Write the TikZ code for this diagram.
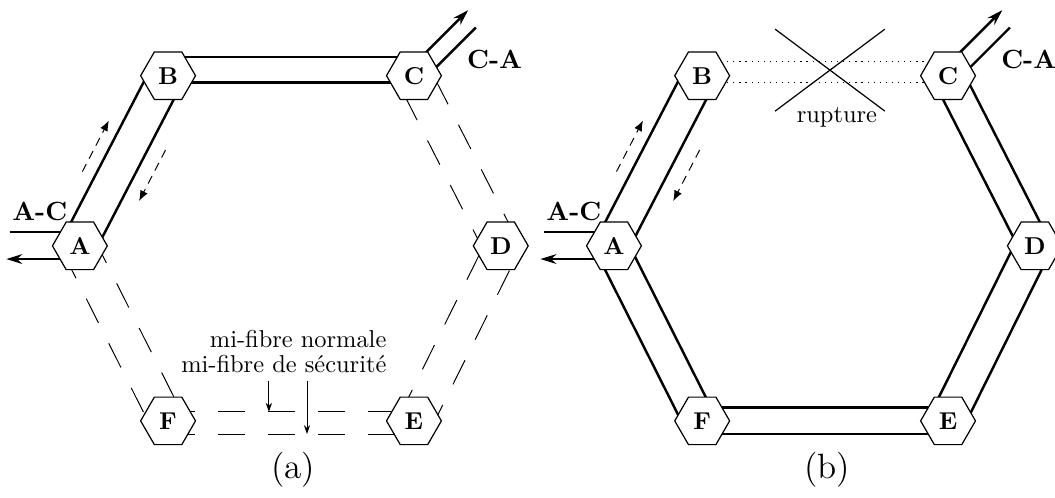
\documentclass[tikz,border=0pt]{standalone}
\usetikzlibrary{shapes.geometric,calc,arrows.meta,backgrounds}

% deux mi-fibres le long d'un tronçon (sens trigo : #2 -> #3)
\newcommand{\fibres}[5][fibre]{%
    \draw[#1] ($(#2.center)!#4!-90:(#3.center)$) -- ($(#3.center)!#4!90:(#2.center)$);
    \draw[#1] ($(#2.center)!#5!90:(#3.center)$) -- ($(#3.center)!#5!-90:(#2.center)$);
}

\begin{document}
\begin{tikzpicture}[
    station/.style={draw, line width=0.5pt, fill=white, regular polygon, regular polygon sides=6,
        minimum size=0.79cm, inner sep=0pt, font=\bfseries},
    fibre/.style={line width=1pt},
    fibre off/.style={line width=0.4pt, dash pattern=on 0.39cm off 0.33cm},
    fibre cut/.style={line width=0.5pt, dotted},
    sens/.style={line width=0.4pt, dash pattern=on 3.5pt off 2.5pt, -{Latex[length=1.5mm,width=1.2mm]}},
    sortie/.style={line width=1pt, -{Stealth[length=2.3mm,width=1.4mm]}},
    flux/.style={font=\fontsize{10.8}{13}\selectfont\bfseries, inner sep=0pt},
    note/.style={inner sep=0pt},
    renvoi/.style={line width=0.4pt, -{Stealth[length=1.3mm,width=0.9mm]}}
]
    \useasboundingbox (0,0) rectangle (15.19,7.17);

    % (a) anneau normal
    \foreach \n/\x/\y in {A/1.15/3.63, B/2.42/6.08, C/5.96/6.08, D/7.21/3.63, E/5.96/1.11, F/2.42/1.11}
        \node[station] (a\n) at (\x,\y) {\n};
    \begin{scope}[on background layer]
        \fibres[fibre off]{aA}{aF}{0.26cm}{0.23cm}
        \fibres[fibre off]{aF}{aE}{0.19cm}{0.13cm}
        \fibres[fibre off]{aE}{aD}{0.27cm}{0.22cm}
        \fibres[fibre off]{aD}{aC}{0.25cm}{0.25cm}
        \fibres{aC}{aB}{0.27cm}{0.10cm}
        \fibres{aB}{aA}{0.27cm}{0.23cm}
        \draw[fibre] ([shift={(-1.01,0.2)}]aA.center) -- ([yshift=0.2cm]aA.center);
        \draw[sortie] ([yshift=-0.19cm]aA.center) -- ++(-1.06,0);
        \draw[sortie] ([shift={(135:0.115)}]aC.center) -- ++(45:1.22);
        \draw[fibre] ([shift={(-45:0.14)}]aC.center) -- ++(45:1.12);
    \end{scope}
    \draw[sens] ($(aA.center)!0.35!(aB.center)!0.46cm!90:(aB.center)$) -- ($(aA.center)!0.65!(aB.center)!0.46cm!90:(aB.center)$);
    \draw[sens] ($(aA.center)!0.65!(aB.center)!0.46cm!-90:(aB.center)$) -- ($(aA.center)!0.35!(aB.center)!0.46cm!-90:(aB.center)$);
    \node[flux, anchor=base west] at ([shift={(-0.98,0.37)}]aA.center) {A-C};
    \node[flux, anchor=base west] at ([shift={(0.76,0.10)}]aC.center) {C-A};

    \node[note, anchor=base east] (normale) at (5.57,2.17) {mi-fibre normale};
    \node[note, anchor=base east] (securite) at (5.57,1.80) {mi-fibre de sécurité};
    \coordinate (pN) at ($(aF.center)!0.41!(aE.center)+(0,0.13)$);
    \coordinate (pS) at ($(aF.center)!0.565!(aE.center)+(0,-0.19)$);
    \draw[renvoi] (pN |- securite.south) ++(0,-0.1) -- (pN);
    \draw[renvoi] (pS |- securite.south) ++(0,-0.1) -- (pS);

    \node[font=\Large] (legA) at (4.22,0.40) {(a)};

    % (b) rupture entre B et C
    \foreach \n/\x/\y in {A/8.84/3.63, B/10.11/6.08, C/13.65/6.08, D/14.90/3.63, E/13.65/1.11, F/10.11/1.11}
        \node[station] (b\n) at (\x,\y) {\n};
    \begin{scope}[on background layer]
        \fibres{bA}{bF}{0.27cm}{0.20cm}
        \fibres{bF}{bE}{0.19cm}{0.19cm}
        \fibres{bE}{bD}{0.24cm}{0.27cm}
        \fibres{bD}{bC}{0.22cm}{0.22cm}
        \fibres[fibre cut]{bC}{bB}{0.20cm}{0.10cm}
        \fibres{bB}{bA}{0.27cm}{0.21cm}
        \draw[fibre] ([shift={(-1.01,0.2)}]bA.center) -- ([yshift=0.2cm]bA.center);
        \draw[sortie] ([yshift=-0.19cm]bA.center) -- ++(-1.06,0);
        \draw[sortie] ([shift={(135:0.115)}]bC.center) -- ++(45:1.22);
        \draw[fibre] ([shift={(-45:0.14)}]bC.center) -- ++(45:1.12);
    \end{scope}
    \draw[sens] ($(bA.center)!0.35!(bB.center)!0.46cm!90:(bB.center)$) -- ($(bA.center)!0.65!(bB.center)!0.46cm!90:(bB.center)$);
    \draw[sens] ($(bA.center)!0.65!(bB.center)!0.46cm!-90:(bB.center)$) -- ($(bA.center)!0.35!(bB.center)!0.46cm!-90:(bB.center)$);
    \node[flux, anchor=base west] at ([shift={(-0.98,0.37)}]bA.center) {A-C};
    \node[flux, anchor=base west] at ([shift={(0.76,0.10)}]bC.center) {C-A};

    \coordinate (cut) at (11.95,6.16);
    \draw[line width=0.5pt] (cut) +(-0.79,-0.59) -- +(0.79,0.59)
                            (cut) +(-0.79,0.59) -- +(0.79,-0.59);
    \node[anchor=base] (rupture) at (12.05,5.40) {rupture};

    \node[font=\Large] (legB) at (11.91,0.40) {(b)};
\end{tikzpicture}
\end{document}
